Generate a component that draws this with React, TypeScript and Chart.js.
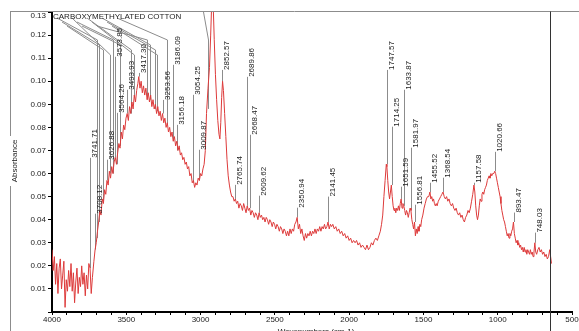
import React, { useEffect, useRef } from 'react';
import { Chart, registerables } from 'chart.js';

Chart.register(...registerables);

// ---- spectrum (wavenumber, cm-1) ----
const wavenumbers = [
  4000,3992,3984,3976,3968,3960,3952,3944,3936,3928,
  3920,3912,3904,3896,3888,3880,3872,3864,3856,3848,
  3840,3832,3824,3816,3808,3800,3792,3784,3776,3768,
  3760,3752,3744,3736,3728,3718,3710,3702,3694,3686,
  3678,3670,3662,3654,3646,3638,3630,3622,3614,3606,
  3598,3590,3582,3574,3566,3558,3550,3542,3534,3526,
  3518,3510,3502,3494,3486,3478,3470,3462,3454,3446,
  3438,3430,3422,3416,3408,3400,3392,3384,3376,3368,
  3360,3352,3344,3336,3328,3320,3312,3304,3296,3288,
  3280,3272,3264,3256,3248,3240,3232,3224,3216,3208,
  3200,3192,3184,3176,3168,3160,3152,3144,3136,3128,
  3120,3112,3104,3096,3088,3080,3072,3064,3056,3048,
  3040,3032,3024,3016,3008,3000,2992,2984,2976,2968,
  2960,2950,2940,2932,2926,2920,2914,2908,2900,2892,
  2884,2876,2870,2864,2858,2852,2846,2838,2830,2822,
  2814,2806,2798,2790,2782,2774,2766,2758,2750,2742,
  2734,2726,2718,2710,2702,2694,2686,2678,2670,2662,
  2654,2646,2638,2630,2622,2614,2606,2598,2590,2582,
  2574,2566,2558,2550,2542,2534,2526,2518,2510,2502,
  2494,2486,2478,2470,2462,2454,2446,2438,2430,2422,
  2414,2406,2398,2390,2382,2374,2366,2358,2350,2342,
  2334,2326,2318,2310,2302,2294,2286,2278,2270,2262,
  2254,2246,2238,2230,2222,2214,2206,2198,2190,2182,
  2174,2166,2158,2150,2142,2134,2126,2118,2110,2100,
  2090,2080,2070,2060,2050,2040,2030,2020,2010,2000,
  1990,1980,1970,1960,1950,1940,1930,1920,1910,1900,
  1890,1880,1870,1860,1850,1840,1830,1820,1810,1800,
  1790,1782,1774,1766,1758,1750,1746,1740,1734,1728,
  1722,1716,1710,1704,1698,1692,1686,1680,1674,1668,
  1662,1656,1650,1644,1638,1632,1626,1620,1614,1608,
  1602,1596,1590,1584,1578,1572,1566,1560,1554,1548,
  1542,1536,1530,1524,1518,1512,1504,1496,1488,1480,
  1472,1464,1456,1450,1444,1438,1432,1426,1420,1414,
  1408,1400,1392,1384,1376,1368,1360,1352,1344,1336,
  1328,1320,1312,1304,1296,1288,1280,1272,1264,1256,
  1248,1240,1232,1224,1216,1208,1200,1192,1184,1176,
  1168,1160,1154,1148,1142,1136,1130,1124,1118,1112,
  1106,1100,1094,1088,1082,1076,1070,1064,1058,1052,
  1046,1040,1034,1026,1020,1014,1008,1002,996,990,
  984,978,972,966,960,954,948,942,936,930,
  924,918,912,906,900,894,888,882,876,870,
  864,858,852,846,840,834,828,822,816,810,
  804,798,792,786,780,774,768,762,756,750,
  744,738,730,722,714,706,698,690,682,674,
  666,658,650,644,638,
];

// ---- spectrum (absorbance) ----
const absorbance = [
  .027,.018,.024,.012,.021,.008,.019,.023,.010,.016,
  .022,.002,.014,.009,.018,.011,.021,.009,.017,.004,
  .013,.019,.008,.015,.011,.020,.012,.017,.007,.016,
  .010,.021,.019,.008,.015,.022,.027,.030,.035,.039,
  .044,.042,.049,.047,.053,.051,.057,.055,.061,.058,
  .063,.060,.065,.067,.064,.069,.073,.071,.078,.075,
  .081,.079,.084,.086,.083,.089,.086,.091,.088,.094,
  .091,.096,.099,.102,.097,.100,.095,.098,.094,.097,
  .092,.095,.091,.094,.089,.092,.088,.090,.086,.089,
  .085,.087,.083,.086,.082,.084,.080,.082,.078,.080,
  .076,.078,.074,.076,.072,.074,.070,.072,.068,.069,
  .066,.067,.064,.065,.062,.063,.059,.060,.056,.057,
  .054,.056,.055,.058,.057,.060,.059,.062,.064,.070,
  .086,.097,.106,.120,.132,.140,.131,.118,.103,.092,
  .083,.077,.075,.082,.093,.100,.096,.086,.076,.066,
  .059,.055,.052,.050,.050,.048,.049,.047,.048,.045,
  .047,.046,.044,.047,.045,.043,.046,.044,.045,.042,
  .044,.043,.041,.043,.042,.040,.043,.041,.042,.040,
  .041,.039,.041,.040,.038,.040,.039,.037,.039,.038,
  .036,.038,.037,.035,.037,.036,.034,.036,.035,.033,
  .035,.033,.036,.034,.036,.035,.038,.039,.041,.036,
  .038,.034,.036,.033,.031,.034,.032,.034,.033,.035,
  .033,.035,.034,.036,.034,.036,.035,.037,.035,.037,
  .036,.038,.036,.037,.039,.036,.038,.037,.038,.036,
  .037,.035,.036,.034,.035,.033,.034,.032,.033,.031,
  .032,.030,.031,.030,.031,.029,.030,.028,.029,.028,
  .027,.029,.027,.028,.030,.029,.031,.032,.031,.033,
  .035,.038,.042,.050,.057,.064,.063,.057,.052,.049,
  .052,.055,.050,.046,.044,.045,.043,.045,.044,.046,
  .044,.047,.049,.045,.047,.046,.044,.042,.044,.043,
  .041,.043,.045,.044,.040,.038,.036,.039,.033,.036,
  .034,.037,.035,.038,.037,.040,.042,.045,.047,.049,
  .050,.050,.052,.049,.050,.048,.049,.047,.046,.047,
  .046,.048,.049,.050,.051,.052,.050,.049,.050,.048,
  .049,.047,.046,.047,.045,.044,.045,.043,.042,.043,
  .041,.042,.040,.039,.041,.042,.044,.043,.045,.048,
  .051,.055,.052,.046,.042,.040,.042,.046,.049,.048,
  .051,.052,.051,.053,.054,.055,.057,.058,.059,.058,
  .060,.059,.060,.060,.061,.060,.058,.056,.054,.052,
  .050,.047,.044,.042,.040,.039,.037,.035,.033,.034,
  .032,.034,.033,.035,.036,.039,.034,.032,.030,.031,
  .029,.030,.028,.029,.027,.028,.026,.028,.026,.027,
  .025,.027,.026,.025,.027,.025,.026,.024,.026,.030,
  .026,.025,.027,.028,.026,.027,.025,.026,.024,.025,
  .023,.024,.027,.024,.021,
];

// ---- peak labels ----
const peakLabels = [
  '3741.71','3708.12','3626.88','3573.85','3564.26','3493.93','3417.30','3253.56',
  '3186.09','3156.18','3054.25','3009.87','2852.57','2765.74','2689.86','2668.47',
  '2609.62','2350.94','2141.45','1747.57','1714.25','1651.59','1633.87','1581.97',
  '1556.81','1455.52','1368.54','1157.58','1020.66','893.47','748.03',
];
const peakWavenumbers = peakLabels.map(Number);
// absorbance at the peak (bottom of the marker line)
const peakAbsorbance = [
  .019,.027,.057,.067,.064,.086,.102,.086,
  .074,.070,.056,.057,.100,.049,.046,.045,
  .043,.041,.039,.064,.055,.049,.046,.044,
  .039,.052,.052,.055,.061,.039,.030,
];
// absorbance level where the label text starts
const labelAbsorbance = [
  .0668,.0426,.0660,.1106,.0863,.0963,.1036,.0919,
  .1071,.0811,.0941,.0703,.1049,.0551,.1019,.0768,
  .0504,.0452,.0500,.1049,.0803,.0543,.0963,.0712,
  .0465,.0560,.0582,.0560,.0694,.0431,.0344,
];

// unlabelled leader lines in the crowded O-H region
const leaderWavenumbers = [3697, 3685, 3660, 3610, 3590, 3545, 3470, 3445, 3360, 3340, 3310, 3290, 3225];
const leaderAbsorbance = [.032, .039, .048, .060, .060, .072, .086, .093, .092, .092, .088, .087, .081];

const xTickMajor = [4000, 3500, 3000, 2500, 2000, 1500, 1000, 500];
const yTopTick = 0.13;
const chartTitle = 'CARBOXYMETHYLATED COTTON';
const yTitle = 'Absorbance';
const xTitle = 'Wavenumbers (cm-1)';
const cursorWavenumber = 647;

const FONT = '"Liberation Sans", Arial, sans-serif';

const annotPlugin = {
  id: 'annot',
  beforeDatasetsDraw(chart: any) {
    const { ctx, chartArea, scales } = chart;
    const x = scales.x, y = scales.y;
    ctx.save();
    ctx.strokeStyle = '#8c8c8c';
    ctx.lineWidth = 1;
    peakWavenumbers.forEach((w: number, i: number) => {
      const px = Math.round(x.getPixelForValue(w)) + 0.5;
      ctx.beginPath();
      ctx.moveTo(px, y.getPixelForValue(peakAbsorbance[i]));
      ctx.lineTo(px, y.getPixelForValue(labelAbsorbance[i]));
      ctx.stroke();
    });
    leaderWavenumbers.forEach((w: number, i: number) => {
      const px = Math.round(x.getPixelForValue(w)) + 0.5;
      const bend = chartArea.top + 28 + (i % 4) * 5;
      ctx.beginPath();
      ctx.moveTo(px, y.getPixelForValue(leaderAbsorbance[i]));
      ctx.lineTo(px, bend);
      ctx.lineTo(chartArea.left + 5 + i * 5, chartArea.top + 6 + (i % 3) * 4);
      ctx.stroke();
    });
    // leader of the off-scale C-H peak
    const pxCH = Math.round(x.getPixelForValue(2950)) + 0.5;
    ctx.beginPath();
    ctx.moveTo(pxCH, y.getPixelForValue(0.088));
    ctx.lineTo(pxCH, chartArea.top + 28);
    ctx.lineTo(pxCH - 5, chartArea.top);
    ctx.stroke();
    ctx.restore();
  },
  afterDraw(chart: any) {
    const { ctx, chartArea, scales } = chart;
    const x = scales.x, y = scales.y;
    ctx.save();
    // frame
    ctx.strokeStyle = '#8c8c8c';
    ctx.lineWidth = 1;
    ctx.beginPath();
    ctx.moveTo(10, chartArea.top - 0.5);
    ctx.lineTo(579, chartArea.top - 0.5);
    ctx.moveTo(10.5, chartArea.top - 0.5);
    ctx.lineTo(10.5, 136);
    ctx.moveTo(10.5, 186);
    ctx.lineTo(10.5, 331);
    ctx.stroke();
    // cursor line
    const cx = Math.round(x.getPixelForValue(cursorWavenumber)) + 0.5;
    ctx.strokeStyle = '#333';
    ctx.beginPath();
    ctx.moveTo(cx, chartArea.top - 0.5);
    ctx.lineTo(cx, 331);
    ctx.stroke();

    ctx.fillStyle = '#222';
    ctx.font = '8px ' + FONT;
    // top y tick label (nudged inside like the original)
    ctx.textAlign = 'right';
    ctx.textBaseline = 'middle';
    ctx.fillText(yTopTick.toFixed(2), chartArea.left - 6, y.getPixelForValue(yTopTick) + 4);
    // peak labels
    peakLabels.forEach((lab: string, i: number) => {
      const px = Math.round(x.getPixelForValue(peakWavenumbers[i])) + 0.5;
      const py = y.getPixelForValue(labelAbsorbance[i]);
      ctx.save();
      ctx.translate(px + 4.5, py);
      ctx.rotate(-Math.PI / 2);
      ctx.textAlign = 'left';
      ctx.textBaseline = 'middle';
      ctx.fillText(lab, 0, 0);
      ctx.restore();
    });
    // title
    ctx.textAlign = 'left';
    ctx.textBaseline = 'middle';
    ctx.fillText(chartTitle, chartArea.left + 1, chartArea.top + 4.5);
    // y title
    ctx.save();
    ctx.translate(15, 161);
    ctx.rotate(-Math.PI / 2);
    ctx.textAlign = 'center';
    ctx.textBaseline = 'middle';
    ctx.fillText(yTitle, 0, 0);
    ctx.restore();
    // x title
    ctx.textAlign = 'center';
    ctx.textBaseline = 'alphabetic';
    ctx.fillText(xTitle, (chartArea.left + chartArea.right) / 2 + 4, 333.5);
    ctx.restore();
  },
};

export default function App() {
  const ref = useRef<HTMLCanvasElement>(null);
  useEffect(() => {
    const canvas = ref.current;
    if (!canvas) return;
    const points = wavenumbers.map((w, i) => ({ x: w, y: absorbance[i] }));
    const chart = new Chart(canvas, {
      type: 'line',
      data: {
        datasets: [
          {
            data: points,
            borderColor: '#dd3a3a',
            borderWidth: 1,
            pointRadius: 0,
            tension: 0,
            fill: false,
          },
        ],
      },
      options: {
        animation: false,
        responsive: false,
        devicePixelRatio: 1,
        layout: { padding: { top: 12, right: 7, left: 0, bottom: 0 } },
        plugins: { legend: { display: false }, tooltip: { enabled: false }, title: { display: false } },
        scales: {
          x: {
            type: 'linear',
            reverse: true,
            min: 500,
            max: 4000,
            afterFit: (s: any) => { s.height = 19; },
            ticks: {
              stepSize: 100,
              autoSkip: false,
              maxRotation: 0,
              padding: 0,
              color: '#222',
              font: { family: FONT, size: 8 },
              callback: (v: any) => (xTickMajor.includes(Number(v)) ? String(v) : ''),
            },
            grid: { drawOnChartArea: false, tickLength: 3, color: '#000' },
            border: { color: '#000', width: 2 },
          },
          y: {
            min: 0,
            max: 0.13,
            afterFit: (s: any) => { s.width = 52; },
            ticks: {
              stepSize: 0.01,
              padding: 2,
              color: '#222',
              font: { family: FONT, size: 8 },
              callback: (v: any) => {
                const n = Number(v);
                if (n < 0.001 || Math.abs(n - yTopTick) < 0.0005) return '';
                return n.toFixed(2);
              },
            },
            grid: { drawOnChartArea: false, tickLength: 4, color: '#000' },
            border: { color: '#000', width: 2 },
          },
        },
      },
      plugins: [annotPlugin],
    } as any);
    return () => chart.destroy();
  }, []);
  return (
    <div style={{ position: 'fixed', left: 0, top: 0, width: 579, height: 331, background: '#fff' }}>
      <canvas ref={ref} width={579} height={331} style={{ display: 'block', width: 579, height: 331 }} />
    </div>
  );
}
